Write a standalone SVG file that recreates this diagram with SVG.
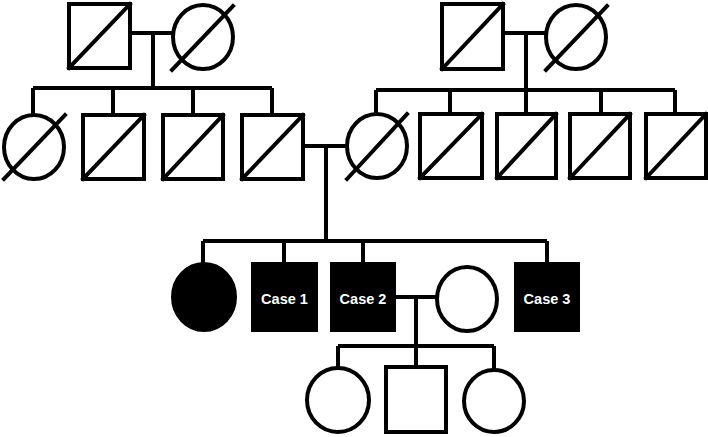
<svg xmlns="http://www.w3.org/2000/svg" width="708" height="437" viewBox="0 0 708 437">
<style>
.s{fill:#fff;stroke:#000;stroke-width:4}
.f{fill:#000;stroke:#000;stroke-width:4}
.d{stroke:#000;stroke-width:4;stroke-linecap:square}
.l{fill:none;stroke:#000;stroke-width:4}
.t{font-family:"Liberation Sans",Arial,sans-serif;font-weight:bold;font-size:14.5px;fill:#fff;text-anchor:middle}
</style>
<rect width="708" height="437" fill="#fff"/>
<g id="connectors" class="l">
<path d="M130 33H173M153 33V88M33 88H272M33 88V115M113 88V115M193 88V115M272 88V115"/>
<path d="M503 33H546M526 33V90M376 90H675M376 90V114M450 90V114M526 90V114M601 90V114M675 90V114"/>
<path d="M303 146H347M326 146V241M203 241H547M203 241V263M284 241V263M363 241V263M547 241V263"/>
<path d="M394 297H437M416 297V346M338 346H494M338 346V368M416 346V367M494 346V370"/>
</g>
<g id="gp1m"><rect class="s" x="69" y="4" width="61" height="64"/><line class="d" x1="69" y1="68" x2="130" y2="4"/></g>
<g id="gp1f"><ellipse class="s" cx="203" cy="37" rx="30" ry="32"/><line class="d" x1="172" y1="70" x2="233" y2="6"/></g>
<g id="gp2m"><rect class="s" x="442" y="4" width="61" height="65"/><line class="d" x1="442" y1="69" x2="503" y2="4"/></g>
<g id="gp2f"><ellipse class="s" cx="576" cy="37" rx="30" ry="32"/><line class="d" x1="546" y1="70" x2="607" y2="6"/></g>
<g id="a1"><ellipse class="s" cx="34" cy="147" rx="30" ry="32"/><line class="d" x1="4" y1="179" x2="65" y2="115"/></g>
<g id="a2"><rect class="s" x="83" y="115" width="61" height="64"/><line class="d" x1="83" y1="179" x2="144" y2="115"/></g>
<g id="a3"><rect class="s" x="163" y="115" width="60" height="64"/><line class="d" x1="163" y1="179" x2="223" y2="115"/></g>
<g id="father"><rect class="s" x="242" y="115" width="61" height="64"/><line class="d" x1="242" y1="179" x2="303" y2="115"/></g>
<g id="mother"><ellipse class="s" cx="377" cy="146" rx="30" ry="32"/><line class="d" x1="347" y1="179" x2="407" y2="114"/></g>
<g id="b1"><rect class="s" x="420" y="114" width="62" height="64"/><line class="d" x1="420" y1="178" x2="482" y2="114"/></g>
<g id="b2"><rect class="s" x="497" y="114" width="59" height="64"/><line class="d" x1="497" y1="178" x2="556" y2="114"/></g>
<g id="b3"><rect class="s" x="570" y="114" width="60" height="64"/><line class="d" x1="570" y1="178" x2="630" y2="114"/></g>
<g id="b4"><rect class="s" x="646" y="114" width="60" height="64"/><line class="d" x1="646" y1="178" x2="706" y2="114"/></g>
<g id="sister"><ellipse class="f" cx="204" cy="297" rx="31" ry="33"/></g>
<g id="case1"><rect class="f" x="253" y="264" width="63" height="66"/><text class="t" x="284.5" y="304">Case 1</text></g>
<g id="case2"><rect class="f" x="332" y="264" width="62" height="66"/><text class="t" x="363" y="304">Case 2</text></g>
<g id="wife"><ellipse class="s" cx="467" cy="299" rx="30" ry="32"/></g>
<g id="case3"><rect class="f" x="516" y="264" width="62" height="66"/><text class="t" x="547" y="304">Case 3</text></g>
<g id="c1"><ellipse class="s" cx="338" cy="400" rx="31" ry="32"/></g>
<g id="c2"><rect class="s" x="386" y="367" width="60" height="65"/></g>
<g id="c3"><ellipse class="s" cx="494" cy="401" rx="30" ry="31"/></g>
</svg>
